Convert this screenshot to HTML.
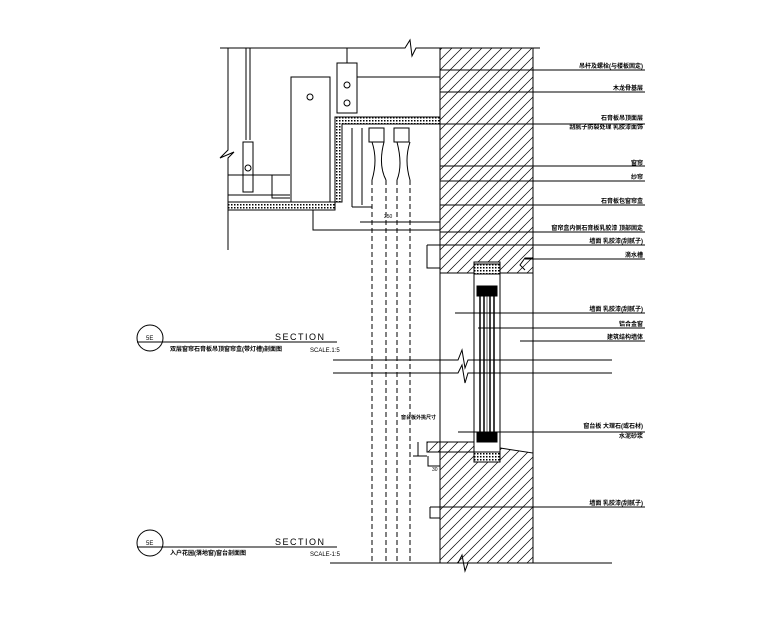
<!DOCTYPE html>
<html><head><meta charset="utf-8"><style>
html,body{margin:0;padding:0;background:#fff;}
svg{display:block;}
text{font-family:"Liberation Sans","Noto Sans CJK SC",sans-serif;fill:#000;}
.l{font-size:6px;font-weight:bold;}
</style></head><body>
<svg width="780" height="617" viewBox="0 0 780 617" xmlns="http://www.w3.org/2000/svg">
<defs>
<pattern id="h" patternUnits="userSpaceOnUse" width="10" height="10">
<path d="M0,10 L10,0 M-3,3 L3,-3 M7,13 L13,7" stroke="#000" stroke-width="0.7"/>
</pattern>
<pattern id="d" patternUnits="userSpaceOnUse" width="3" height="3">
<rect width="3" height="3" fill="#fff"/><rect x="0" y="0" width="1.5" height="1.5" fill="#000"/>
</pattern>
</defs>
<g stroke="#000" stroke-width="1" fill="none">
<path d="M220,48 H405 L410,40 L412,56 L416,48 H540"/>
<rect x="440" y="48" width="93" height="225" fill="url(#h)"/>
<path d="M474,273 V262 H500 V273" fill="#fff"/>
<path d="M427,245 H440 M427,245 V268 H440"/>
<path d="M533,258 H525 L520,265 L525,270"/>
<path d="M440,273 V453 M533,48 V563"/>
<path d="M440,452 H474 V462 H500 V448 L533,453 V563 H440 Z" fill="url(#h)"/>
<rect x="427" y="442" width="47" height="10" fill="url(#h)"/>
<path d="M418,442 V456 M413,456 H427 M428,456 V466 H440"/>
<path d="M333,360 H458 L462,350 L465,368 L468,360 H612"/>
<path d="M333,373 H458 L462,365 L465,383 L468,373 H612"/>
<path d="M330,563 H458 L462,555 L465,571 L468,563 H612"/>
<rect x="474" y="264" width="26" height="10" fill="url(#d)"/>
<rect x="474" y="452" width="26" height="10" fill="url(#d)"/>
<rect x="474" y="274" width="26" height="178"/>
<rect x="477" y="286" width="20" height="10" fill="#000"/>
<rect x="477" y="432" width="20" height="10" fill="#000"/>
<path d="M480,296 V432 M484,296 V432 M490,296 V432 M494,296 V432" stroke-width="1.5"/>
<path d="M487,296 V432" stroke-width="0.6"/>
<g stroke-dasharray="5,3">
<path d="M372,180 V563 M386,180 V563 M397,180 V563 M410,180 V563"/>
</g>
<path d="M228,48 V150 L220,158 L234,152 L228,158 V250"/>
<path d="M246,48 V140 M250,48 V140"/>
<rect x="243" y="142" width="10" height="50"/>
<circle cx="248" cy="168" r="3"/>
<path d="M228,175 H290 M228,195 H290"/>
<path d="M272,175 V198 H290"/>
<rect x="291" y="77" width="39" height="125"/>
<circle cx="310" cy="97" r="3"/>
<rect x="337" y="63" width="20" height="50" fill="#fff"/>
<path d="M347,48 V63"/>
<circle cx="347" cy="85" r="3"/><circle cx="347" cy="103" r="3"/>
<path d="M357,77 H440"/>
<path d="M228,202 H342 V124 H440 V117 H335 V210 H228 Z" fill="url(#d)"/>
<path d="M352,128 V207 M352,207 H372"/>
<path d="M362,128 V205"/>
<rect x="369" y="128" width="15" height="14"/>
<rect x="394" y="128" width="15" height="14"/>
<path d="M372,142 Q378,160 372,180 M384,142 Q378,165 386,180 M397,142 Q403,165 397,180 M410,142 Q404,160 410,180"/>
<path d="M360,222 H440 V215 M313,210 V230 H440"/>
<path d="M440,70 H645 M440,92 H645 M440,124 H645 M440,166 H645 M440,181 H645 M440,205 H645 M440,232 H645 M440,245 H645 M525,259 H645 M455,313 H645 M478,328 H645 M520,341 H645 M458,432 H645 M440,507 H645"/>
<path d="M430,507 H440 M430,507 V518 H440"/>
<circle cx="150" cy="338" r="13"/>
<path d="M137,342 H337"/>
<circle cx="150" cy="543" r="13"/>
<path d="M137,547 H337"/>
</g>
<g font-size="9" letter-spacing="1.5">
<text x="275" y="340">SECTION</text>
<text x="275" y="545">SECTION</text>
</g>
<text x="310" y="352" font-size="6">SCALE.1:5</text>
<text x="310" y="556" font-size="6">SCALE-1:5</text>
<text x="146" y="340" font-size="6">5E</text>
<text x="146" y="545" font-size="6">5E</text>
<text x="170" y="351" class="l">双层窗帘石膏板吊顶窗帘盒(带灯槽)剖面图</text>
<text x="170" y="555" class="l">入户花园(落地窗)窗台剖面图</text>
<g class="l" text-anchor="end">
<text x="643" y="68">吊杆及螺栓(与楼板固定)</text>
<text x="643" y="90">木龙骨基层</text>
<text x="643" y="120">石膏板吊顶面层</text>
<text x="643" y="129">刮腻子防裂处理 乳胶漆面饰</text>
<text x="643" y="165">窗帘</text>
<text x="643" y="179">纱帘</text>
<text x="643" y="203">石膏板包窗帘盒</text>
<text x="643" y="230">窗帘盒内侧石膏板乳胶漆 顶部固定</text>
<text x="643" y="243">墙面 乳胶漆(刮腻子)</text>
<text x="643" y="257">滴水槽</text>
<text x="643" y="311">墙面 乳胶漆(刮腻子)</text>
<text x="643" y="326">铝合金窗</text>
<text x="643" y="339">建筑结构墙体</text>
<text x="643" y="428">窗台板 大理石(或石材)</text>
<text x="643" y="438">水泥砂浆</text>
<text x="643" y="505">墙面 乳胶漆(刮腻子)</text>
<text x="436" y="419" font-size="5">窗台板外挑尺寸</text>
</g>
<text x="384" y="218" font-size="5">250</text>
<text x="432" y="471" font-size="5">30</text>
</svg>
</body></html>
